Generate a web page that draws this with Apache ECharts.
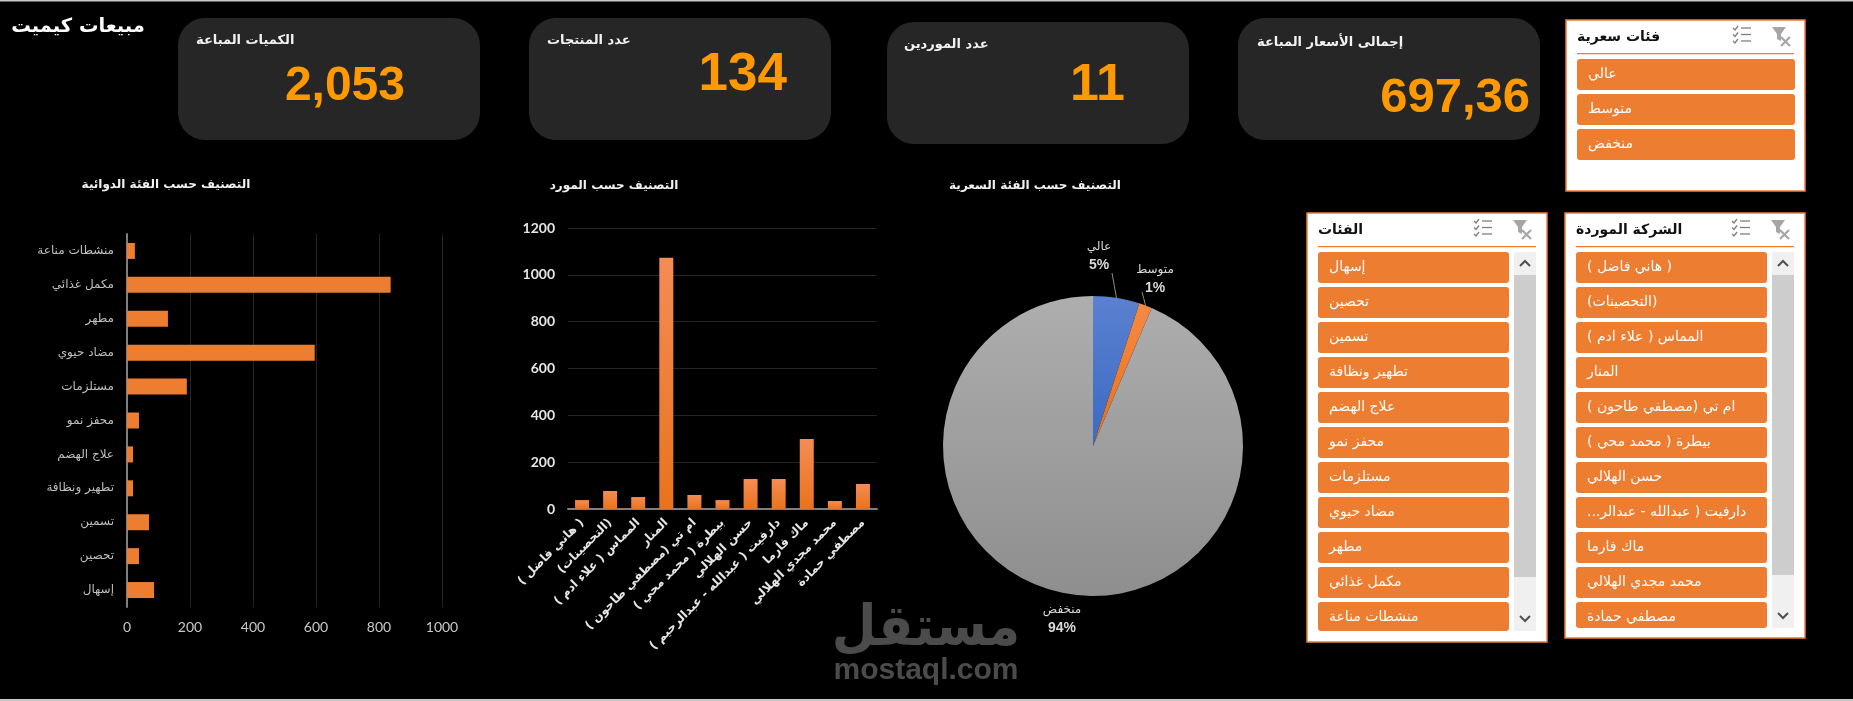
<!DOCTYPE html>
<html lang="ar">
<head>
<meta charset="utf-8">
<script src="https://cdn.jsdelivr.net/npm/echarts@6/dist/echarts.min.js"></script>
<style>html,body{margin:0;padding:0;background:#000;overflow:hidden}#main{width:1853px;height:701px}</style>
</head>
<body>
<div id="main" dir="rtl"></div>
<script>
const dashboardTitle = 'مبيعات كيميت';
const kpiLabels = ['الكميات المباعة', 'عدد المنتجات', 'عدد الموردين', 'إجمالى الأسعار المباعة'];
const kpiValues = ['2,053', '134', '11', '697,36'];
const chartTitles = ['التصنيف حسب الفئة الدوائية', 'التصنيف حسب المورد', 'التصنيف حسب الفئة السعرية'];
const categories = ['إسهال', 'تحصين', 'تسمين', 'تطهير ونظافة', 'علاج الهضم', 'محفز نمو', 'مستلزمات', 'مضاد حيوي', 'مطهر', 'مكمل غذائي', 'منشطات مناعة'];
const categoryValues = [86, 38, 70, 19, 19, 38, 190, 596, 130, 837, 25];
const suppliers = ['( هاني فاضل )', '(التحصينات)', 'المماس ( علاء ادم )', 'المنار', 'ام تي (مصطفي طاحون )', 'بيطرة ( محمد محي )', 'حسن الهلالي', 'دارفيت ( عبدالله - عبدالرحيم )', 'ماك فارما', 'محمد مجدي الهلالي', 'مصطفي حمادة'];
const supplierValues = [38, 77, 51, 1073, 60, 38, 128, 128, 299, 34, 107];
const priceBands = ['عالي', 'متوسط', 'منخفض'];
const priceShares = [5.0, 1.4, 93.6];
const slicerTitles = ['فئات سعرية', 'الفئات', 'الشركة الموردة'];

const AR = '"DejaVu Sans"';
const NUM = 'Lato';
const KPI = '"Liberation Sans"';
const ORANGE = '#ed7d31';
const elements = [];
const rect = (x, y, w, h, fill, r, extra) => elements.push({type:'rect', silent:true, z:5, shape:{x, y, width:w, height:h, r:r||0}, style:Object.assign({fill}, extra||{})});
const text = (s, x, y, font, fill, align, extra) => elements.push(Object.assign({type:'text', silent:true, z:6, x, y, style:{text:s, x:0, y:0, font, fill, textAlign:align||'left', textVerticalAlign:'middle'}}, extra||{}));
const line = (pts, stroke, w) => elements.push({type:'polyline', silent:true, z:6, shape:{points:pts}, style:{stroke, lineWidth:w, fill:null}});

// page edges
rect(0, 0, 1853, 1.5, '#c8c8c8');
rect(0, 699, 1853, 2, '#c8c8c8');

// heading
text(dashboardTitle, 78, 27, 'bold 19.5px '+AR, '#ffffff', 'center');

// KPI cards
const cardBoxes = [[178,18],[529,18],[887,22],[1238,18]];
const labelPos = [[196,41],[547,41],[904,45],[1257,43]];
const valuePos = [[405,87,'bold 48px '],[787,75,'bold 53px '],[1125,86,'bold 52px '],[1530,98,'bold 49px ']];
kpiLabels.forEach((l, i) => {
  rect(cardBoxes[i][0], cardBoxes[i][1], 302, 122, '#262626', 27);
  text(l, labelPos[i][0], labelPos[i][1], 'bold 13px '+AR, '#f2f2f2', 'left');
  text(kpiValues[i], valuePos[i][0], valuePos[i][1], valuePos[i][2]+KPI, '#ff9900', 'right');
});

// chart titles
text(chartTitles[0], 166, 185, 'bold 12px '+AR, '#f2f2f2', 'center');
text(chartTitles[1], 614, 186, 'bold 12px '+AR, '#f2f2f2', 'center');
text(chartTitles[2], 1035, 186, 'bold 12px '+AR, '#f2f2f2', 'center');

// slicers
function slicer(title, items, px, py, pw, ph, iw, clipY, scroll) {
  rect(px, py, pw, ph, '#ffffff', 0, {stroke:ORANGE, lineWidth:1.5});
  text(title, px+11, py+17, 'bold 14px '+AR, '#111111', 'left');
  rect(px+11, py+33, pw-22, 1.2, ORANGE);
  // multi-select icon
  [8,14.5,21].forEach(d => {
    line([[px+167,py+d],[px+169,py+d+2],[px+172,py+d-2]], '#7f7f7f', 1.3);
    line([[px+175,py+d],[px+185,py+d]], '#7f7f7f', 1.3);
  });
  // clear filter icon
  elements.push({type:'polygon', silent:true, z:6, shape:{points:[[px+206,py+7],[px+220,py+7],[px+215,py+14],[px+215,py+21],[px+211,py+19],[px+211,py+14]]}, style:{fill:'#a6a6a6'}});
  line([[px+215,py+17],[px+224,py+26]], '#a6a6a6', 2.2);
  line([[px+224,py+17],[px+215,py+26]], '#a6a6a6', 2.2);
  items.forEach((s, i) => {
    const y = py+39+i*35;
    const h = Math.min(31, clipY-y);
    rect(px+11, y, iw, h, ORANGE, 3);
    text(s, px+22, y+15, '14px '+AR, '#ffffff', 'left');
  });
  if (scroll) {
    const sx = px+207;
    rect(sx, py+39, 22, clipY-py-39, '#f0f0f0');
    rect(sx, py+62, 22, scroll-py-62, '#cdcdcd');
    line([[sx+6,py+53],[sx+11,py+48],[sx+16,py+53]], '#505050', 2);
    line([[sx+6,clipY-15],[sx+11,clipY-10],[sx+16,clipY-15]], '#505050', 2);
  }
}
const trimmed = suppliers.map(s => s.length > 26 ? s.slice(0,25)+'...' : s);
slicer(slicerTitles[0], priceBands, 1566, 20, 239, 171, 218, 999, 0);
slicer(slicerTitles[1], categories, 1307, 213, 240, 429, 191, 631, 577);
slicer(slicerTitles[2], trimmed, 1565, 213, 240, 425, 191, 628, 575);

// watermark
text('مستقل', 926, 630, 'bold 56px '+AR, '#4b4b4b', 'center', {scaleX:0.92});
text('mostaql.com', 926, 671, 'bold 30px "Liberation Sans"', '#4b4b4b', 'center');

const gridColor = '#242424';
const plain = v => String(v);
const option = {
  backgroundColor:'#000000',
  animation:false,
  graphic:{elements},
  grid:[
    {left:127, top:234, width:315, height:373, containLabel:false},
    {left:568, top:228, width:309, height:281, containLabel:false}
  ],
  xAxis:[
    {gridIndex:0, type:'value', min:0, max:1000, interval:200,
     axisLine:{show:false}, axisTick:{show:false},
     axisLabel:{color:'#c8c8c8', fontFamily:NUM, fontSize:14, margin:13, formatter:plain},
     splitLine:{lineStyle:{color:gridColor, width:1}}},
    {gridIndex:1, type:'category', data:suppliers,
     axisLine:{lineStyle:{color:'#7f7f7f', width:2}}, axisTick:{show:false},
     axisLabel:{interval:0, rotate:45, color:'#e6e6e6', fontFamily:AR, fontWeight:'bold', fontSize:12, margin:12}}
  ],
  yAxis:[
    {gridIndex:0, type:'category', data:categories,
     axisLine:{lineStyle:{color:'#7f7f7f', width:2}}, axisTick:{show:false},
     axisLabel:{interval:0, color:'#bfbfbf', fontFamily:AR, fontSize:12, margin:13}},
    {gridIndex:1, type:'value', min:0, max:1200, interval:200,
     axisLine:{show:false}, axisTick:{show:false},
     axisLabel:{color:'#e6e6e6', fontFamily:NUM, fontWeight:'bold', fontSize:14, margin:13, formatter:plain},
     splitLine:{lineStyle:{color:gridColor, width:1}}}
  ],
  series:[
    {type:'bar', xAxisIndex:0, yAxisIndex:0, data:categoryValues, barWidth:16, itemStyle:{color:ORANGE}},
    {type:'bar', xAxisIndex:1, yAxisIndex:1, data:supplierValues, barWidth:14,
     itemStyle:{color:new echarts.graphic.LinearGradient(0,0,0,1,[{offset:0,color:'#f58c55'},{offset:1,color:'#e8731c'}])}},
    {type:'pie', center:[1093,446], radius:[0,150], startAngle:90, clockwise:true,
     data:priceBands.map((n,i) => ({name:n, value:priceShares[i], labelLine:{show:i<2}, itemStyle:{color:new echarts.graphic.LinearGradient(0,0,0,1,[
        [{offset:0,color:'#5b80cf'},{offset:1,color:'#3a6bc5'}],
        [{offset:0,color:'#f58a45'},{offset:1,color:'#ea7015'}],
        [{offset:0,color:'#aeaeae'},{offset:1,color:'#8e8e8e'}]][i])}})),
     label:{show:true, position:'outside', formatter:p => '{n|'+p.name+'}\n{p|'+Math.round(p.percent)+'%}',
       rich:{n:{color:'#d9d9d9', fontFamily:AR, fontSize:12, lineHeight:18, align:'center'}, p:{color:'#d9d9d9', fontFamily:'"Liberation Sans"', fontWeight:'bold', fontSize:14, lineHeight:18, align:'center'}}},
     labelLine:{show:true, length:6, length2:0, lineStyle:{color:'#8c8c8c', width:1}},
     labelLayout:p => {
       const spots = [[1099,256],[1155,279],[1062,619]];
       const tails = [[13,17],[-13,13]];
       const s = spots[p.dataIndex], t = tails[p.dataIndex];
       const out = {x:s[0], y:s[1], align:'center', verticalAlign:'middle'};
       if (t && p.labelLinePoints) {
         const a = p.labelLinePoints[0], e = [s[0]+t[0], s[1]+t[1]];
         out.labelLinePoints = [a, [(a[0]+e[0])/2,(a[1]+e[1])/2], e];
       }
       return out;
     },
     emphasis:{disabled:true}, silent:true}
  ]
};
const chart = echarts.init(document.getElementById('main'), null, {renderer:'canvas'});
chart.setOption(option);
</script>
</body>
</html>
